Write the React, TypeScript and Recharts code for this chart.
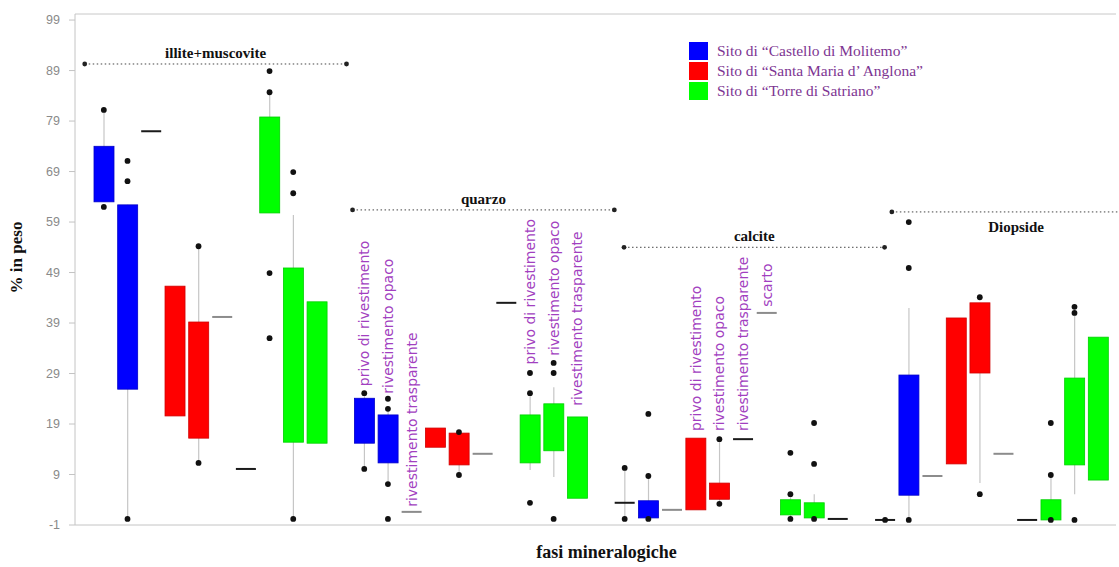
import React from "react";
import { ComposedChart, Bar, Scatter, XAxis, YAxis, ReferenceLine, ReferenceDot, Legend } from "recharts";

// one slot per box; gap slots separate the four mineral phases
const slots = [
  "I1", "I2", "I3", "I4", "I5", "I6", "I7", "I8", "I9", "I10", "gap1",
  "Q1", "Q2", "Q3", "Q4", "Q5", "Q6", "Q7", "Q8", "Q9", "Q10", "gap2",
  "C1", "C2", "C3", "C4", "C5", "C6", "C7", "C8", "C9", "C10", "gap3",
  "D1", "D2", "D3", "D4", "D5", "D6", "D7", "D8", "D9", "D10",
];

const yTicks = [-1, 9, 19, 29, 39, 49, 59, 69, 79, 89, 99];
const yTop = 100.2;

const siteKeys = ["B", "R", "G"];
const siteNames = [
  "Sito di \u201cCastello di Molitemo\u201d",
  "Sito di \u201cSanta Maria d\u2019 Anglona\u201d",
  "Sito di \u201cTorre di Satriano\u201d",
];
const siteFill: Record<string, string> = { B: "#0000ff", R: "#ff0000", G: "#00ff00" };
const siteEdge: Record<string, string> = { B: "#0000c8", R: "#d00000", G: "#00d000" };

// [slot, site, q1, q3]
const boxes: [string, string, number, number][] = [
  ["I1", "B", 63.0, 74.0], ["I2", "B", 25.9, 62.4], ["I4", "R", 20.6, 46.3], ["I5", "R", 16.2, 39.2],
  ["I8", "G", 60.8, 79.8], ["I9", "G", 15.4, 49.9], ["I10", "G", 15.2, 43.2],
  ["Q1", "B", 15.2, 24.1], ["Q2", "B", 11.3, 20.8], ["Q4", "R", 14.4, 18.2], ["Q5", "R", 10.9, 17.2],
  ["Q8", "G", 11.3, 20.8], ["Q9", "G", 13.7, 23.0], ["Q10", "G", 4.3, 20.4],
  ["C2", "B", 0.4, 3.8], ["C4", "R", 2.0, 16.2], ["C5", "R", 4.1, 7.3], ["C8", "G", 1.0, 4.0], ["C9", "G", 0.4, 3.4],
  ["D2", "B", 4.9, 28.7], ["D4", "R", 11.1, 40.0], ["D5", "R", 29.1, 43.0],
  ["D8", "G", 0.0, 4.0], ["D9", "G", 10.9, 28.1], ["D10", "G", 7.9, 36.2],
];

// [slot, low, high]
const whiskers: [string, number, number][] = [
  ["I1", 63.0, 81.2], ["I2", 0.2, 62.4], ["I5", 11.3, 54.2], ["I8", 60.8, 84.7], ["I9", 0.2, 60.4],
  ["Q1", 10.1, 25.1], ["Q2", 7.1, 22.0], ["Q5", 8.9, 17.2], ["Q8", 9.9, 25.1], ["Q9", 8.5, 26.3],
  ["C1", 0.2, 10.3], ["C2", 0.2, 8.7], ["C5", 3.2, 16.0], ["C8", 0.2, 5.1], ["C9", 0.2, 5.1],
  ["D2", 0.0, 42.0], ["D5", 7.3, 43.0], ["D8", 0.0, 8.9], ["D9", 5.1, 41.6],
];

// single-value entries drawn as a dash: [slot, value, tone]
const flats: [string, number, string][] = [
  ["I3", 77.0, "k"], ["I6", 40.2, "g"], ["I7", 10.1, "k"],
  ["Q3", 1.6, "g"], ["Q6", 13.1, "g"], ["Q7", 43.0, "k"],
  ["C1", 3.4, "k"], ["C3", 2.0, "g"], ["C6", 16.0, "k"], ["C7", 41.0, "g"], ["C10", 0.2, "k"],
  ["D1", 0.0, "k"], ["D3", 8.7, "g"], ["D6", 13.1, "g"], ["D7", 0.0, "k"],
];

// outliers / extremes: [slot, value]
const points: [string, number][] = [
  ["I1", 81.2], ["I1", 62.0], ["I2", 71.1], ["I2", 67.1], ["I2", 0.2], ["I5", 54.2], ["I5", 11.3],
  ["I8", 88.9], ["I8", 84.7], ["I8", 48.9], ["I8", 36.0], ["I9", 68.9], ["I9", 64.7], ["I9", 0.2],
  ["Q1", 25.1], ["Q1", 10.1], ["Q2", 24.0], ["Q2", 22.0], ["Q2", 7.1], ["Q2", 0.2], ["Q5", 17.4], ["Q5", 8.9],
  ["Q8", 29.1], ["Q8", 25.1], ["Q8", 3.4], ["Q9", 31.1], ["Q9", 29.1], ["Q9", 0.2],
  ["C1", 10.3], ["C1", 0.2], ["C2", 21.0], ["C2", 8.7], ["C2", 0.2], ["C5", 16.0], ["C5", 3.2],
  ["C8", 13.3], ["C8", 5.1], ["C8", 0.2], ["C9", 19.2], ["C9", 11.1], ["C9", 0.2],
  ["D1", 0.0], ["D2", 59.0], ["D2", 49.9], ["D2", 0.0], ["D5", 44.1], ["D5", 5.1],
  ["D8", 19.2], ["D8", 8.9], ["D8", 0.0], ["D9", 42.2], ["D9", 41.0], ["D9", 0.0],
];

// vertical notes: [slot, base value, text]
const notes: [string, number, string][] = [
  ["Q1", 26.5, "privo di rivestimento"], ["Q2", 25.0, "rivestimento opaco"], ["Q3", 2.6, "rivestimento trasparente"],
  ["Q8", 30.8, "privo di rivestimento"], ["Q9", 32.5, "rivestimento opaco"], ["Q10", 22.6, "rivestimento trasparente"],
  ["C4", 17.6, "privo di rivestimento"], ["C5", 17.6, "rivestimento opaco"], ["C6", 17.6, "rivestimento trasparente"],
  ["C7", 42.2, "scarto"],
];

// phase brackets, in slot units
const groupNames = ["illite+muscovite", "quarzo", "calcite", "Diopside"];
const groupFrom = [-0.3, 10.75, 21.95, 33.0];
const groupTo = [10.5, 21.55, 32.7, 43.25];
const groupLevel = [90.3, 61.4, 54.0, 61.0];

const rows = slots.map((slot) => {
  const b = boxes.find((r) => r[0] === slot);
  const w = whiskers.find((r) => r[0] === slot);
  return { slot, site: b ? b[1] : null, box: b ? [b[2], b[3]] : null, whisk: w ? [w[1], w[2]] : null };
});
const flatRows = flats.map(([slot, v, tone]) => ({ slot, v, tone }));
const pointRows = points.map(([slot, v]) => ({ slot, v }));
const noteRows = notes.map(([slot, v, text]) => ({ slot, v, text }));

const pad = { left: 17, right: 6 };

const BoxShape = (p: any) => {
  if (!p.payload || !p.payload.box) return <g />;
  const top = Math.min(p.y, p.y + p.height);
  const h = Math.max(Math.abs(p.height), 1);
  return <rect x={p.x} y={top} width={p.width} height={h} fill={siteFill[p.payload.site]} stroke={siteEdge[p.payload.site]} strokeWidth={0.8} />;
};

const WhiskerShape = (p: any) => {
  if (!p.payload || !p.payload.whisk) return <g />;
  const cx = p.x + p.width / 2;
  return <line x1={cx} x2={cx} y1={p.y} y2={p.y + p.height} stroke="#c6c6c6" strokeWidth={1.2} />;
};

const FlatShape = (p: any) => (
  <line x1={p.cx - 10} x2={p.cx + 10} y1={p.cy} y2={p.cy}
    stroke={p.payload.tone === "k" ? "#1a1a1a" : "#8c8c8c"} strokeWidth={2} />
);

const DotShape = (p: any) => <circle cx={p.cx} cy={p.cy} r={2.9} fill="#111" />;

const NoteShape = (p: any) => (
  <text x={p.cx} y={p.cy} dy="0.36em" transform={`rotate(-90 ${p.cx} ${p.cy})`} textAnchor="start"
    fontFamily="DejaVu Sans" fontSize={14} fill="#a23fc0">
    {p.payload.text}
  </text>
);

const LegendBox = () => (
  <div>
    {siteKeys.map((k, i) => (
      <div key={k} style={{ display: "flex", alignItems: "center", height: 20 }}>
        <div style={{ width: 19, height: 18, background: siteFill[k] }} />
        <span style={{ marginLeft: 9, fontFamily: "Liberation Serif", fontSize: 15.5, color: "#7d3592", whiteSpace: "nowrap" }}>{siteNames[i]}</span>
      </div>
    ))}
  </div>
);

export default function App() {
  return (
    <div style={{ position: "absolute", left: 0, top: 0, background: "#fff" }}>
      <ComposedChart width={1119} height={567} data={rows} margin={{ top: 14, right: 3, bottom: 12, left: 0 }}>
        <XAxis xAxisId="m" dataKey="slot" type="category" allowDuplicatedCategory={false} padding={pad}
          height={30} tick={false} tickLine={false} stroke="#c4c4c4"
          label={{
            content: (lp: any) => (
              <text x={lp.viewBox.x + lp.viewBox.width / 2 + 11} y={lp.viewBox.y + 33} textAnchor="middle"
                fontFamily="Liberation Serif" fontWeight="bold" fontSize={18} fill="#111">fasi mineralogiche</text>
            ),
          }} />
        <XAxis xAxisId="w" dataKey="slot" type="category" allowDuplicatedCategory={false} padding={pad} hide />
        <XAxis xAxisId="n" type="number" domain={[0, 43]} allowDataOverflow padding={pad} hide />
        <YAxis type="number" domain={[-1, yTop]} ticks={yTicks} allowDataOverflow width={75}
          tickSize={6} tickMargin={9} stroke="#c4c4c4"
          tick={{ fill: "#8a8a8a", fontSize: 12.5, fontFamily: "Liberation Sans" }}
          label={{
            content: (lp: any) => {
              const cx = lp.viewBox.x + 16;
              const cy = lp.viewBox.y + lp.viewBox.height / 2 - 12;
              return (
                <text x={cx} y={cy} transform={`rotate(-90 ${cx} ${cy})`} textAnchor="middle" dy="0.35em"
                  fontFamily="Liberation Serif" fontWeight="bold" fontSize={17} fill="#111">% in peso</text>
              );
            },
          }} />
        <ReferenceLine xAxisId="n" y={yTop} stroke="#c8c8c8" />
        <ReferenceLine xAxisId="n" x={43.25} stroke="#ececec" ifOverflow="visible" />
        {groupNames.map((name, i) => (
          <ReferenceLine key={name} xAxisId="n" ifOverflow="visible" stroke="#444" strokeDasharray="1.5 2.5"
            segment={[{ x: groupFrom[i], y: groupLevel[i] }, { x: groupTo[i], y: groupLevel[i] }]}
            label={{ value: name, position: i === 3 ? "bottom" : "top", offset: i === 3 ? 9 : 6,
              fill: "#111", fontSize: 15, fontWeight: "bold", fontFamily: "Liberation Serif" }} />
        ))}
        {groupNames.map((name, i) => (
          <ReferenceDot key={name + "a"} xAxisId="n" x={groupFrom[i]} y={groupLevel[i]} r={2.4} fill="#222" stroke="none" ifOverflow="visible" />
        ))}
        {groupNames.map((name, i) => (
          <ReferenceDot key={name + "b"} xAxisId="n" x={groupTo[i]} y={groupLevel[i]} r={2.4} fill="#222" stroke="none" ifOverflow="visible" />
        ))}
        <Bar xAxisId="w" dataKey="whisk" barSize={2} shape={WhiskerShape} isAnimationActive={false} />
        <Bar xAxisId="m" dataKey="box" barSize={20} shape={BoxShape} isAnimationActive={false} />
        <Scatter xAxisId="m" data={flatRows} dataKey="v" shape={FlatShape} isAnimationActive={false} />
        <Scatter xAxisId="m" data={pointRows} dataKey="v" shape={DotShape} isAnimationActive={false} />
        <Scatter xAxisId="m" data={noteRows} dataKey="v" shape={NoteShape} isAnimationActive={false} />
        <Legend layout="vertical" align="center" verticalAlign="middle" content={LegendBox}
          wrapperStyle={{ left: 689, top: 41, width: 320 }} />
      </ComposedChart>
    </div>
  );
}
